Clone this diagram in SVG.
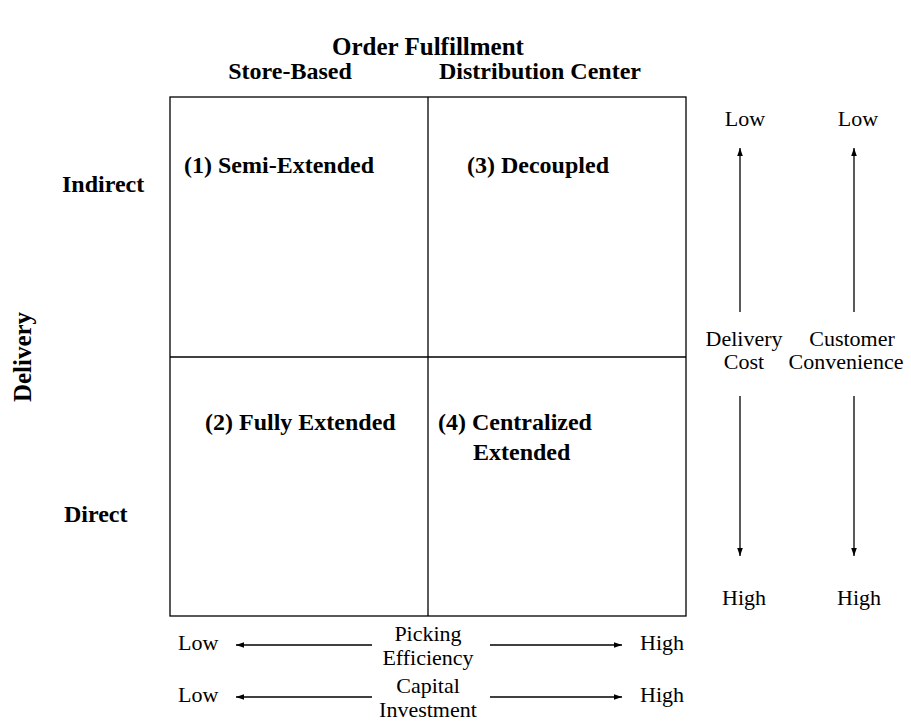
<svg xmlns="http://www.w3.org/2000/svg" width="911" height="724" viewBox="0 0 911 724">
<defs>
<style>
.b{font-family:"Liberation Serif","Times New Roman",serif;font-weight:bold;font-size:24px;fill:#000}
.t{font-family:"Liberation Serif","Times New Roman",serif;font-weight:bold;font-size:25px;fill:#000}
.r{font-family:"Liberation Serif","Times New Roman",serif;font-size:22px;fill:#000}
.m{text-anchor:middle}
.ln{stroke:#000;stroke-width:1.3;fill:none}
</style>
<marker id="ah" viewBox="0 0 10 10" refX="10" refY="5" markerWidth="8" markerHeight="8" markerUnits="userSpaceOnUse" orient="auto">
<path d="M0,1.5 L10,5 L0,8.5 z" fill="#000"/>
</marker>
</defs>
<rect width="911" height="724" fill="#fff"/>
<g id="title">
<text class="t m" x="428" y="55">Order Fulfillment</text>
<text class="b m" x="290" y="79">Store-Based</text>
<text class="b m" x="540" y="79">Distribution Center</text>
<text class="b" x="62" y="192">Indirect</text>
<text class="b" x="64" y="522">Direct</text>
<text class="t m" transform="translate(31,357) rotate(-90)">Delivery</text>
</g>
<g id="grid">
<rect class="ln" x="170" y="97" width="516" height="519"/>
<line class="ln" x1="428" y1="97" x2="428" y2="616"/>
<line class="ln" x1="170" y1="357" x2="686" y2="357"/>
</g>
<g id="q1"><text class="b" x="184" y="173">(1) Semi-Extended</text></g>
<g id="q3"><text class="b" x="467" y="173">(3) Decoupled</text></g>
<g id="q2"><text class="b" x="205" y="430">(2) Fully Extended</text></g>
<g id="q4"><text class="b" x="438" y="430">(4) Centralized</text><text class="b" x="473" y="460">Extended</text></g>
<g id="axis-right">
<text class="r m" x="745" y="126">Low</text>
<text class="r m" x="858" y="126">Low</text>
<text class="r m" x="744" y="346">Delivery</text>
<text class="r m" x="744" y="369">Cost</text>
<text class="r m" x="852" y="346">Customer</text>
<text class="r m" x="846" y="369">Convenience</text>
<text class="r m" x="744" y="605">High</text>
<text class="r m" x="859" y="605">High</text>
</g>
<g id="axis-bottom">
<text class="r" x="178" y="650">Low</text>
<text class="r m" x="428" y="641">Picking</text>
<text class="r m" x="428" y="665">Efficiency</text>
<text class="r" x="640" y="650">High</text>
<text class="r" x="178" y="702">Low</text>
<text class="r m" x="428" y="693">Capital</text>
<text class="r m" x="428" y="717">Investment</text>
<text class="r" x="640" y="702">High</text>
</g>
<g id="connectors">
<line class="ln" x1="740" y1="312" x2="740" y2="148" marker-end="url(#ah)"/>
<line class="ln" x1="854" y1="312" x2="854" y2="148" marker-end="url(#ah)"/>
<line class="ln" x1="740" y1="396" x2="740" y2="556" marker-end="url(#ah)"/>
<line class="ln" x1="854" y1="396" x2="854" y2="556" marker-end="url(#ah)"/>
<line class="ln" x1="372" y1="645" x2="236" y2="645" marker-end="url(#ah)"/>
<line class="ln" x1="490" y1="645" x2="622" y2="645" marker-end="url(#ah)"/>
<line class="ln" x1="372" y1="697" x2="236" y2="697" marker-end="url(#ah)"/>
<line class="ln" x1="490" y1="697" x2="622" y2="697" marker-end="url(#ah)"/>
</g>
</svg>
